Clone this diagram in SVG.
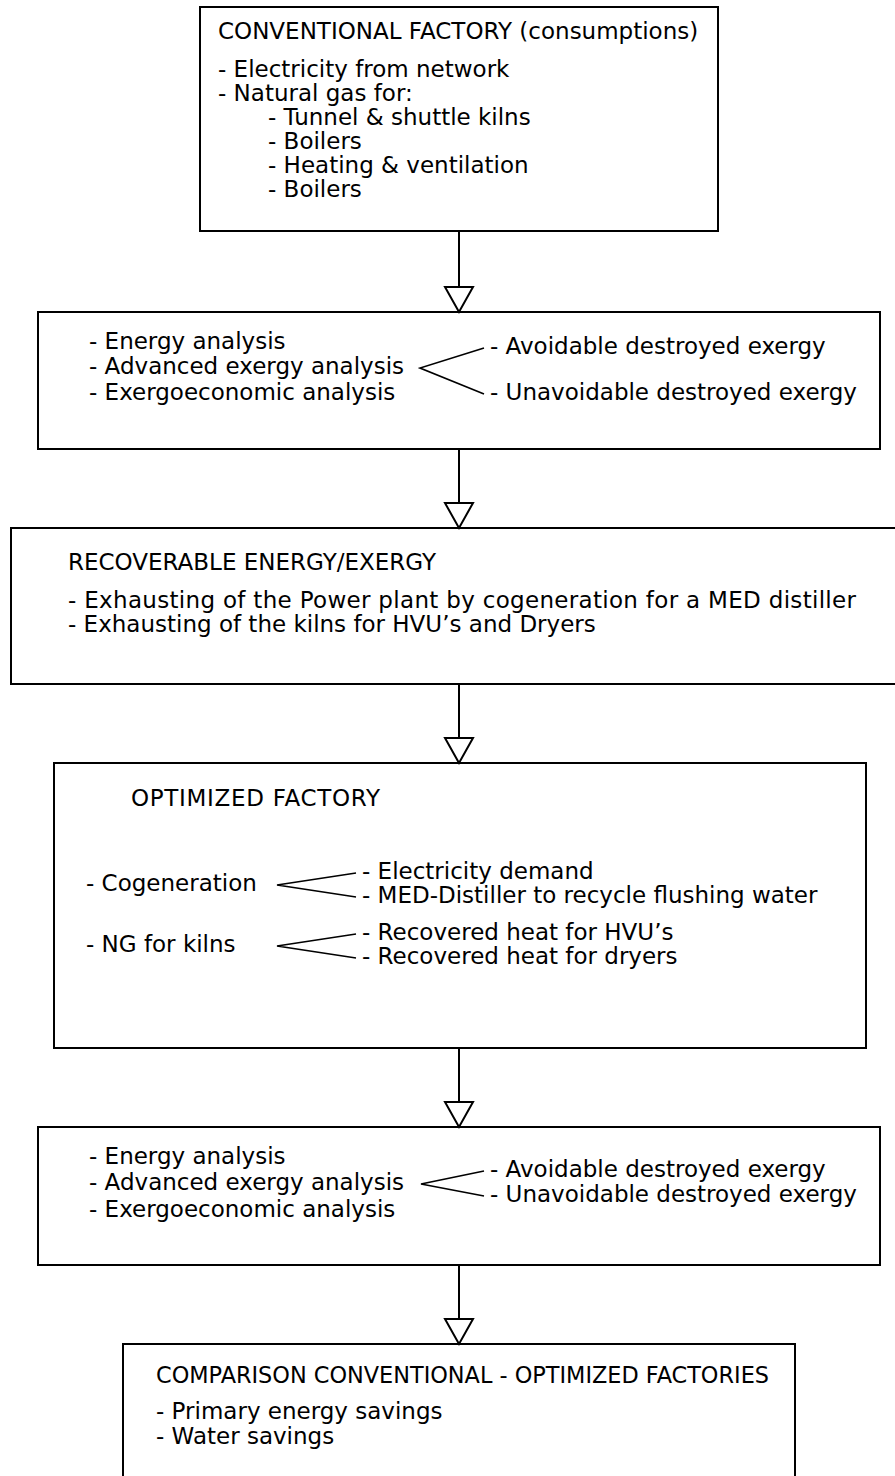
<svg xmlns="http://www.w3.org/2000/svg" width="895" height="1476" viewBox="0 0 895 1476">
  <style>
    .box { fill: none; stroke: #000; stroke-width: 2; }
    .t { font-family: "DejaVu Sans", "Liberation Sans", sans-serif; font-size: 23px; fill: #000; }
    .flow { stroke: #000; stroke-width: 2; fill: none; }
    .fork { stroke: #000; stroke-width: 1.6; fill: none; }
  </style>
  <defs>
    <!-- hollow triangular head used on every flow arrow -->
    <marker id="hollow" viewBox="0 0 25 28" refX="25" refY="14" markerWidth="25" markerHeight="28" markerUnits="userSpaceOnUse" orient="auto" overflow="visible">
      <path d="M0,0 L25,14 L0,28 Z" fill="#fff" stroke="#000" stroke-width="2" stroke-linejoin="miter"/>
    </marker>
  </defs>
  <rect width="895" height="1476" fill="#fff"/>

  <!-- flow arrows between stages -->
  <g id="connectors">
    <line class="flow" x1="459" y1="231" x2="459" y2="312" marker-end="url(#hollow)"/>
    <line class="flow" x1="459" y1="449" x2="459" y2="528" marker-end="url(#hollow)"/>
    <line class="flow" x1="459" y1="684" x2="459" y2="763" marker-end="url(#hollow)"/>
    <line class="flow" x1="459" y1="1048" x2="459" y2="1127" marker-end="url(#hollow)"/>
    <line class="flow" x1="459" y1="1265" x2="459" y2="1344" marker-end="url(#hollow)"/>
  </g>

  <g id="conventional-factory">
    <rect class="box" x="200" y="7" width="518" height="224"/>
    <text class="t" x="218" y="39">CONVENTIONAL FACTORY (consumptions)</text>
    <text class="t" x="218" y="77">- Electricity from network</text>
    <text class="t" x="218" y="101">- Natural gas for:</text>
    <text class="t" x="268" y="125">- Tunnel &amp; shuttle kilns</text>
    <text class="t" x="268" y="149">- Boilers</text>
    <text class="t" x="268" y="173">- Heating &amp; ventilation</text>
    <text class="t" x="268" y="197">- Boilers</text>
  </g>

  <g id="analysis-conventional">
    <rect class="box" x="38" y="312" width="842" height="137"/>
    <text class="t" x="89" y="349">- Energy analysis</text>
    <text class="t" x="89" y="374">- Advanced exergy analysis</text>
    <text class="t" x="89" y="400">- Exergoeconomic analysis</text>
    <polyline class="fork" points="484,348 420,368 484,394"/>
    <text class="t" x="490" y="354">- Avoidable destroyed exergy</text>
    <text class="t" x="490" y="400">- Unavoidable destroyed exergy</text>
  </g>

  <g id="recoverable">
    <rect class="box" x="11" y="528" width="900" height="156"/>
    <text class="t" x="68" y="570">RECOVERABLE ENERGY/EXERGY</text>
    <text class="t" x="68" y="608" textLength="788" lengthAdjust="spacing">- Exhausting of the Power plant by cogeneration for a MED distiller</text>
    <text class="t" x="68" y="632">- Exhausting of the kilns for HVU’s and Dryers</text>
  </g>

  <g id="optimized-factory">
    <rect class="box" x="54" y="763" width="812" height="285"/>
    <text class="t" x="131" y="806" textLength="249" lengthAdjust="spacing">OPTIMIZED FACTORY</text>
    <text class="t" x="86" y="891">- Cogeneration</text>
    <polyline class="fork" points="356,873 277,885 356,897"/>
    <text class="t" x="362" y="879">- Electricity demand</text>
    <text class="t" x="362" y="903">- MED-Distiller to recycle flushing water</text>
    <text class="t" x="86" y="952">- NG for kilns</text>
    <polyline class="fork" points="356,934 277,946 356,958"/>
    <text class="t" x="362" y="940">- Recovered heat for HVU’s</text>
    <text class="t" x="362" y="964">- Recovered heat for dryers</text>
  </g>

  <g id="analysis-optimized">
    <rect class="box" x="38" y="1127" width="842" height="138"/>
    <text class="t" x="89" y="1164">- Energy analysis</text>
    <text class="t" x="89" y="1190">- Advanced exergy analysis</text>
    <text class="t" x="89" y="1217">- Exergoeconomic analysis</text>
    <polyline class="fork" points="484,1171 421,1184 484,1196"/>
    <text class="t" x="490" y="1177">- Avoidable destroyed exergy</text>
    <text class="t" x="490" y="1202">- Unavoidable destroyed exergy</text>
  </g>

  <g id="comparison">
    <rect class="box" x="123" y="1344" width="672" height="200"/>
    <text class="t" x="156" y="1383" textLength="613" lengthAdjust="spacingAndGlyphs">COMPARISON CONVENTIONAL - OPTIMIZED FACTORIES</text>
    <text class="t" x="156" y="1419">- Primary energy savings</text>
    <text class="t" x="156" y="1444">- Water savings</text>
  </g>
</svg>
